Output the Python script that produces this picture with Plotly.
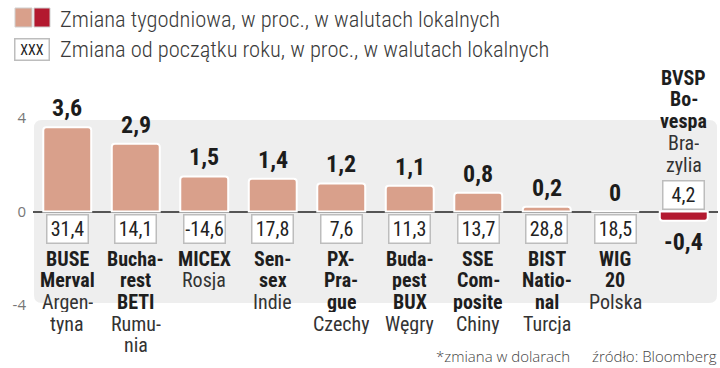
import plotly.graph_objects as go

# ---- data ----
indices = ["BUSE Merval", "Bucharest BETI", "MICEX", "Sensex", "PX-Prague",
           "Budapest BUX", "SSE Composite", "BIST National", "WIG 20", "BVSP Bovespa"]
weekly = [3.6, 2.9, 1.5, 1.4, 1.2, 1.1, 0.8, 0.2, 0, -0.4]
ytd = [31.4, 14.1, -14.6, 17.8, 7.6, 11.3, 13.7, 28.8, 18.5, 4.2]
name_bold = [["BUSE", "Merval"], ["Bucha-", "rest", "BETI"], ["MICEX"], ["Sen-", "sex"],
             ["PX-", "Pra-", "gue"], ["Buda-", "pest", "BUX"], ["SSE", "Com-", "posite"],
             ["BIST", "Natio-", "nal"], ["WIG", "20"], ["BVSP", "Bo-", "vespa"]]
name_reg = [["Argen-", "tyna"], ["Rumu-", "nia"], ["Rosja"], ["Indie"], ["Czechy"],
            ["Węgry"], ["Chiny"], ["Turcja"], ["Polska"], ["Bra-", "zylia"]]
y_ticks = [4, 0, -4]
legend_texts = ["Zmiana tygodniowa, w proc., w walutach lokalnych",
                "Zmiana od początku roku, w proc., w walutach lokalnych"]
footer_note = "*zmiana w dolarach"
footer_src = "źródło: Bloomberg"

# ---- style ----
POS = "#d9a08b"
NEG = "#b3192f"
BG = "#eeeeee"
COND = "Roboto Condensed, Roboto, sans-serif"
WIDE = "Open Sans, Noto Sans, sans-serif"
W, H = 720, 368
L, R, T, B = 33, 2, 118, 63
PW, PH = W - L - R, H - T - B


def px(x):
    return (x - L) / PW


def py(y):
    return (H - B - y) / PH


def fmt(v):
    return "0" if v == 0 else f"{v:.1f}".replace(".", ",")


fig = go.Figure()
fig.add_trace(go.Bar(
    x=indices, y=weekly, width=0.7,
    marker=dict(color=[POS if v >= 0 else NEG for v in weekly],
                line=dict(color="white", width=2), cornerradius=3),
    hoverinfo="skip", showlegend=False,
))

ann = []
shapes = []

# rounded grey plot background
x0, x1, y0, y1 = px(34), px(717), py(303), py(120)
rx, ry = 8 / PW, 8 / PH
path = (f"M {x0+rx},{y1} L {x1-rx},{y1} Q {x1},{y1} {x1},{y1-ry} "
        f"L {x1},{y0+ry} Q {x1},{y0} {x1-rx},{y0} L {x0+rx},{y0} "
        f"Q {x0},{y0} {x0},{y0+ry} L {x0},{y1-ry} Q {x0},{y1} {x0+rx},{y1} Z")
shapes.append(dict(type="path", xref="paper", yref="paper", path=path,
                   fillcolor=BG, line=dict(width=0), layer="below"))

LS = 21.7
for i, name in enumerate(indices):
    v = weekly[i]
    # weekly value label
    if v >= 0:
        ann.append(dict(x=name, y=v, yanchor="bottom", yshift=3, text=f"<b>{fmt(v)}</b>",
                        showarrow=False, font=dict(family=COND, size=24, color="#1c1c1c")))
    else:
        ann.append(dict(x=name, y=v, yanchor="top", yshift=-5, text=f"<b>{fmt(v)}</b>",
                        showarrow=False, font=dict(family=COND, size=24, color="#1c1c1c")))
    # YTD box
    up = v < 0
    ann.append(dict(x=name, y=0, yanchor="bottom" if up else "top", yshift=2 if up else -2,
                    text=fmt(ytd[i]), showarrow=False, width=40, height=27,
                    bgcolor="white", bordercolor="#bdbdbd", borderwidth=1.5, borderpad=0,
                    font=dict(family=COND, size=20, color="#222")))
    # name lines
    lines = [(t, True) for t in name_bold[i]] + [(t, False) for t in name_reg[i]]
    n = len(lines)
    for j, (t, b) in enumerate(lines):
        off = 47 + (n - 1 - j) * LS if up else -(47 + j * LS)
        ann.append(dict(x=name, y=0, yanchor="middle", yshift=off, height=20,
                        text=f"<b>{t}</b>" if b else t, showarrow=False,
                        font=dict(family=COND, size=20, color="#1e1e1e" if b else "#333",
                                  weight=700 if b else 400)))

# legend
shapes.append(dict(type="rect", xref="paper", yref="paper", x0=px(15), x1=px(32),
                   y0=py(27), y1=py(8), fillcolor=POS, line=dict(color="#cfcfcf", width=1)))
shapes.append(dict(type="rect", xref="paper", yref="paper", x0=px(34), x1=px(50),
                   y0=py(27), y1=py(8), fillcolor=NEG, line=dict(color="#cfcfcf", width=1)))
ann.append(dict(xref="paper", yref="paper", x=px(31.5), y=py(49), xanchor="center",
                yanchor="middle", text="XXX", showarrow=False, width=33, height=20,
                bgcolor="white", bordercolor="#bdbdbd", borderwidth=1.5, borderpad=0,
                font=dict(family=COND, size=14, color="#222")))
for k, t in enumerate(legend_texts):
    ann.append(dict(xref="paper", yref="paper", x=px(58), y=py(19 + 30 * k),
                    xanchor="left", yanchor="middle", text=t, showarrow=False,
                    font=dict(family=COND, size=22.5, color="#3a3a3a", weight=300)))

# footer
ann.append(dict(xref="paper", yref="paper", x=px(572), y=py(356), xanchor="right",
                yanchor="middle", text=footer_note, showarrow=False,
                font=dict(family=WIDE, size=15, color="#444", weight=300)))
ann.append(dict(xref="paper", yref="paper", x=px(719), y=py(356), xanchor="right",
                yanchor="middle", text=footer_src, showarrow=False,
                font=dict(family=WIDE, size=15, color="#444", weight=300)))

fig.update_layout(
    width=W, height=H, margin=dict(l=L, r=R, t=T, b=B),
    paper_bgcolor="white", plot_bgcolor="rgba(0,0,0,0)",
    annotations=ann, shapes=shapes, bargap=0.3,
    xaxis=dict(showticklabels=False, showgrid=False, zeroline=False, ticks="",
               range=[-0.5, 9.5]),
    yaxis=dict(range=[-4, 4], tickvals=y_ticks, ticktext=[str(t) for t in y_ticks],
               showgrid=False, zeroline=True, zerolinecolor="#555", zerolinewidth=1.5,
               tickfont=dict(family=WIDE, size=15, color="#777"), ticks="",
               ticklabelstandoff=6),
)
fig.write_html("out.html", config={"displayModeBar": False},
               post_script="document.body.style.margin='0';")
